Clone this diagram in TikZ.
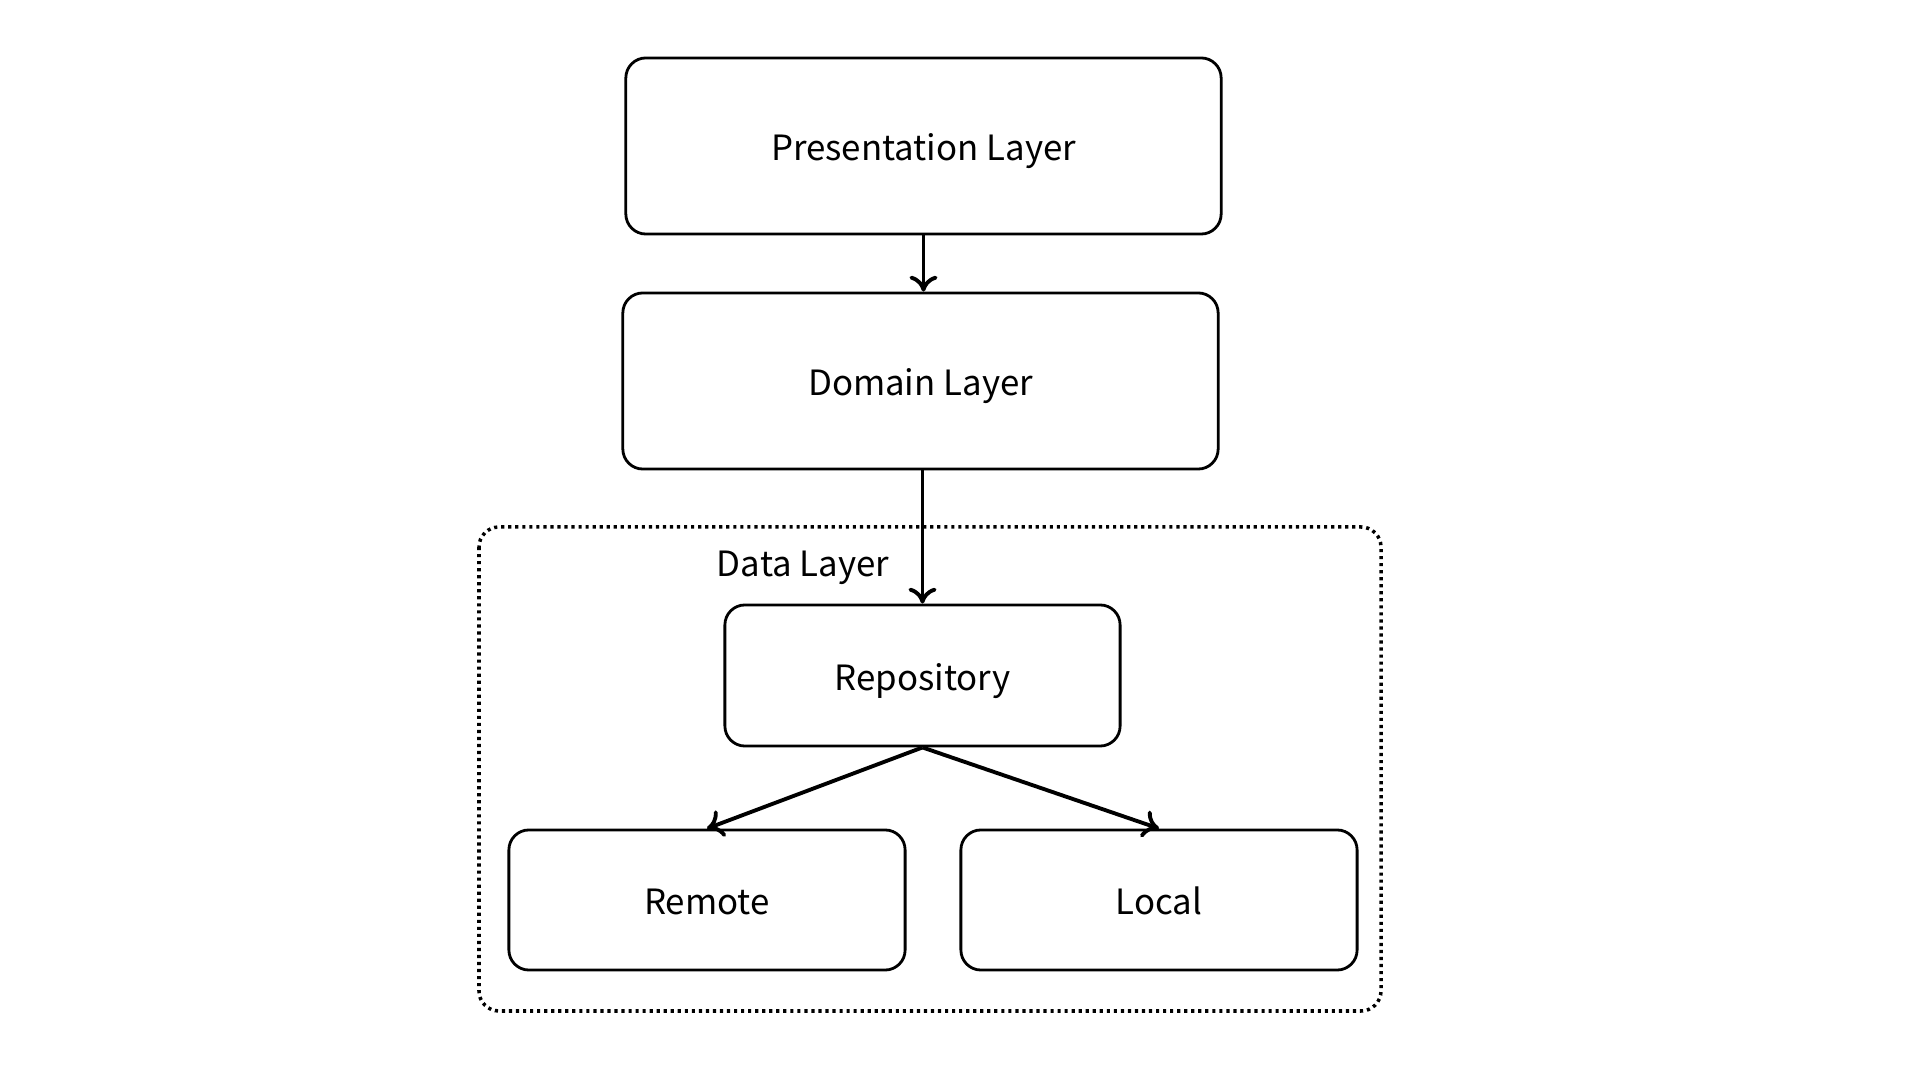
\documentclass[tikz,border=0pt]{standalone}
\usepackage{fontspec}
\setmainfont{Noto Sans CJK JP}
\usepackage{tikz}
\usetikzlibrary{arrows.meta}

\begin{document}
\begin{tikzpicture}[x=0.01cm,y=-0.01cm,
    lbl/.style={font=\fontsize{9.9}{12}\selectfont,text height=8.5pt,text depth=0pt},
    layer/.style={lbl,draw,line width=0.8pt,rounded corners=0.2cm},
    link/.style={line width=1.1pt,-{To[length=4.5pt,width=8pt]}}]
  \useasboundingbox (0,0) rectangle (1920,1080);

  \node[layer,minimum width=5.95cm,minimum height=1.76cm] (pres) at (923.5,146) {Presentation Layer};
  \node[layer,minimum width=5.95cm,minimum height=1.76cm] (dom) at (920.5,381) {Domain Layer};

  % data layer group
  \draw[line width=1pt,dash pattern=on 0.9pt off 1.1pt,rounded corners=0.2cm] (479,527) rectangle (1381,1011);
  \node[lbl] (datalbl) at (803,562) {Data Layer};

  \node[layer,minimum width=3.95cm,minimum height=1.41cm] (repo) at (922.5,675.5) {Repository};
  \node[layer,minimum width=3.96cm,minimum height=1.40cm] (remote) at (707,900) {Remote};
  \node[layer,minimum width=3.96cm,minimum height=1.40cm] (local) at (1159,900) {Local};

  \draw[link] (pres.south) -- (pres.south |- dom.north);
  \draw[link] (dom.south -| repo.north) -- (repo.north);
  \draw[link] (repo.south) -- (remote.north);
  \draw[link] (repo.south) -- (local.north);
\end{tikzpicture}
\end{document}
